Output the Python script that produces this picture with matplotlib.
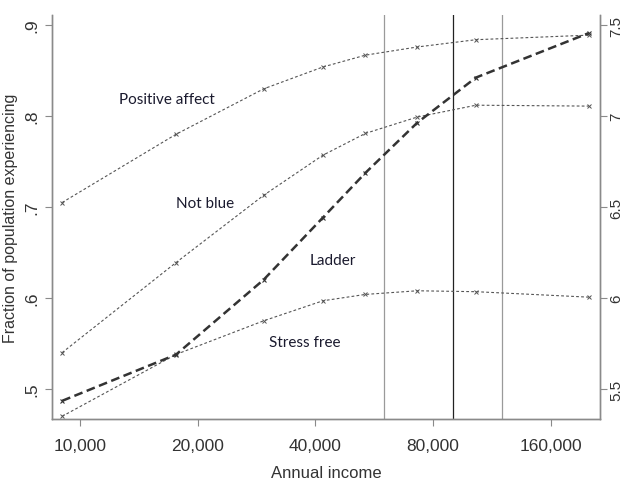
import numpy as np
import matplotlib
matplotlib.use("Agg")
import matplotlib.pyplot as plt
from matplotlib.ticker import FixedLocator, FixedFormatter, NullLocator

# income group midpoints
income = [9000, 17600, 29500, 41800, 53700, 72900, 103000, 200000]

positive_affect = [0.705, 0.780, 0.830, 0.854, 0.867, 0.876, 0.884, 0.889]
not_blue = [0.540, 0.639, 0.713, 0.757, 0.781, 0.799, 0.812, 0.811]
stress_free = [0.470, 0.538, 0.575, 0.597, 0.604, 0.608, 0.607, 0.601]
ladder = [5.435, 5.689, 6.101, 6.442, 6.688, 6.964, 7.212, 7.456]

xticks = [10000, 20000, 40000, 80000, 160000]
xticklabels = ["10,000", "20,000", "40,000", "80,000", "160,000"]
left_ticks = [0.5, 0.6, 0.7, 0.8, 0.9]
left_labels = [".5", ".6", ".7", ".8", ".9"]
right_ticks = [5.5, 6, 6.5, 7, 7.5]
right_labels = ["5.5", "6", "6.5", "7", "7.5"]
vlines = [60000, 90000, 120000]

plt.rcParams['font.family'] = ['Liberation Sans', 'DejaVu Sans']

fig = plt.figure(figsize=(6.25, 4.89), dpi=100)
ax = fig.add_axes([0.0832, 0.141, 0.8768, 0.826])
ax2 = ax.twinx()

spine_col = "#8a8a8a"
line_col = "#555555"

ax.set_xscale("log")
ax.set_xlim(8480, 213800)
ax.set_ylim(0.467, 0.911)
ax2.set_ylim(5.335, 7.555)

for v, c in zip(vlines, ["#9a9a9a", "#222222", "#9a9a9a"]):
    ax.axvline(v, color=c, lw=0.9, zorder=1)

for ys in [positive_affect, not_blue, stress_free]:
    ax.plot(income, ys, color=line_col, lw=0.8, ls=(0, (2.5, 2)),
            marker="x", ms=3.5, mew=0.7, zorder=3)
ax2.plot(income, ladder, color="#333333", lw=1.8, ls=(0, (3.5, 1.8)),
         marker="x", ms=3.5, mew=0.8, zorder=3)

ax.xaxis.set_major_locator(FixedLocator(xticks))
ax.xaxis.set_major_formatter(FixedFormatter(xticklabels))
ax.xaxis.set_minor_locator(NullLocator())
ax.set_yticks(left_ticks)
ax.set_yticklabels(left_labels, rotation=90, va="center")
ax2.set_yticks(right_ticks)
ax2.set_yticklabels(right_labels, rotation=90, va="center")

for a in (ax, ax2):
    a.spines["top"].set_visible(False)
    for s in ("left", "right", "bottom"):
        a.spines[s].set_color(spine_col)
        a.spines[s].set_linewidth(1.0)
    a.tick_params(colors=spine_col, labelcolor="#333333", length=5, width=0.8,
                  labelsize=12.5)
ax.tick_params(axis="y", pad=4)
ax2.tick_params(axis="y", pad=2, labelsize=11)
ax.tick_params(axis="x", pad=9)

ax.set_xlabel("Annual income", fontsize=12, color="#333333", labelpad=8)
ax.set_ylabel("Fraction of population experiencing", fontsize=11.5,
              color="#333333", labelpad=5)

lab = dict(fontsize=11, color="#1a1a2e", family=["Lato", "DejaVu Sans"],
           ha="center", va="center")
fig.text(167 / 625, 1 - 100.5 / 489, "Positive affect", **lab)
fig.text(205 / 625, 1 - 204 / 489, "Not blue", **lab)
fig.text(333 / 625, 1 - 261.5 / 489, "Ladder", **lab)
fig.text(305 / 625, 1 - 343 / 489, "Stress free", **lab)

fig.savefig("out.png", dpi=100)
